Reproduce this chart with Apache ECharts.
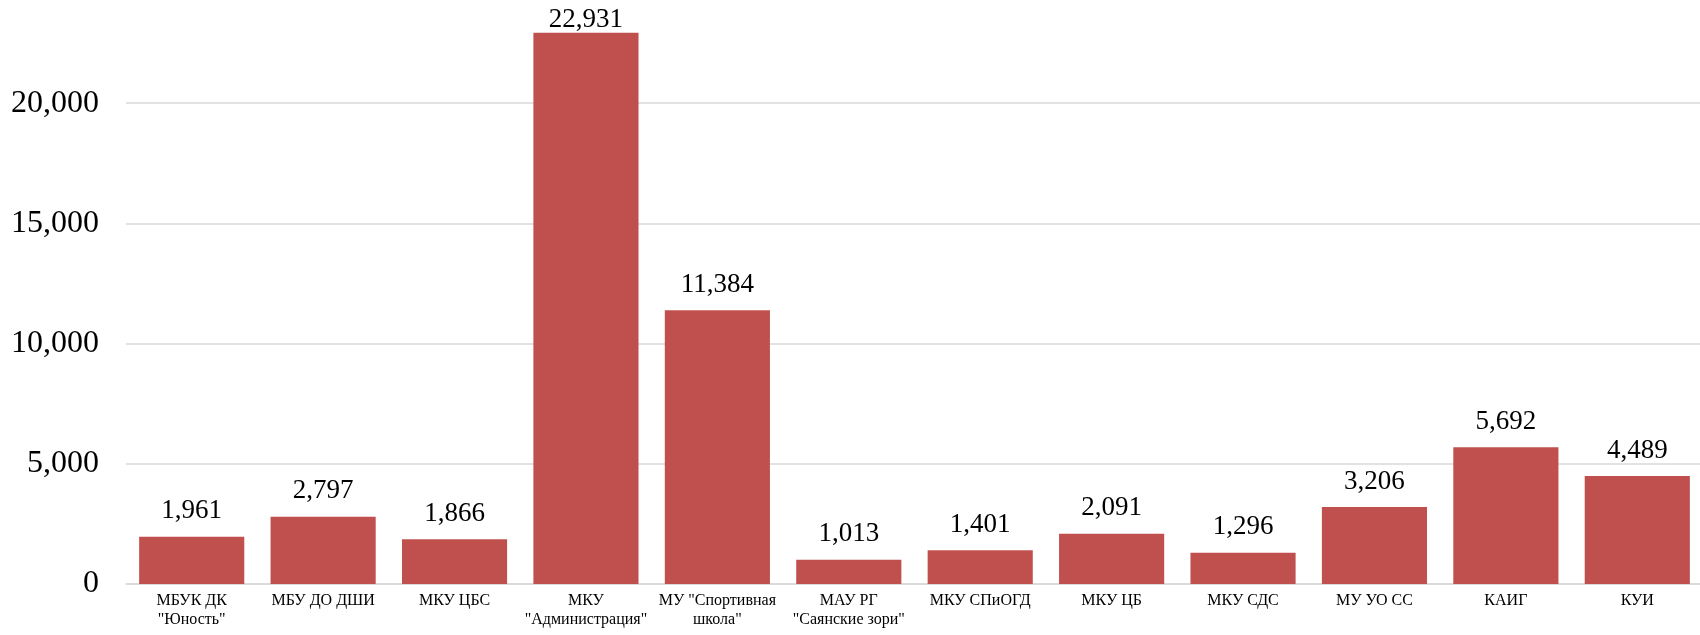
<!DOCTYPE html>
<html>
<head>
<meta charset="utf-8">
<script src="https://cdn.jsdelivr.net/npm/echarts@6/dist/echarts.min.js"></script>
<style>
html,body{margin:0;padding:0;background:#fff;}
#c{width:1700px;height:635px;}
</style>
</head>
<body>
<div id="c"></div>
<script>
const categories = [
  'МБУК ДК\n"Юность"',
  'МБУ ДО ДШИ',
  'МКУ ЦБС',
  'МКУ\n"Администрация"',
  'МУ "Спортивная\nшкола"',
  'МАУ РГ\n"Саянские зори"',
  'МКУ СПиОГД',
  'МКУ ЦБ',
  'МКУ СДС',
  'МУ УО СС',
  'КАИГ',
  'КУИ'
];
const values = [1961, 2797, 1866, 22931, 11384, 1013, 1401, 2091, 1296, 3206, 5692, 4489];
const yTicks = [0, 5000, 10000, 15000, 20000, 25000];

const fmt = v => v.toLocaleString('en-US');
const maxV = Math.max(...values);

const chart = echarts.init(document.getElementById('c'), null, {renderer: 'canvas'});
chart.setOption({
  animation: false,
  backgroundColor: '#ffffff',
  grid: {left: 126, right: -3, top: -17, bottom: 51, containLabel: false, outerBoundsMode: 'none'},
  xAxis: {
    type: 'category',
    data: categories,
    axisLine: {show: true, lineStyle: {color: '#d9d9d9', width: 1.5}},
    axisTick: {show: false},
    axisLabel: {
      interval: 0,
      margin: 7,
      fontFamily: '"Liberation Serif", "Times New Roman", serif',
      fontSize: 16,
      lineHeight: 19,
      color: '#000'
    }
  },
  yAxis: {
    type: 'value',
    min: yTicks[0],
    max: yTicks[yTicks.length - 1],
    interval: yTicks[1] - yTicks[0],
    axisLine: {show: false},
    axisTick: {show: false},
    splitLine: {lineStyle: {color: '#d9d9d9', width: 1.5}},
    axisLabel: {
      margin: 27,
      fontFamily: '"Liberation Serif", "Times New Roman", serif',
      fontSize: 32,
      color: '#000',
      formatter: v => fmt(v)
    }
  },
  series: [{
    type: 'bar',
    barCategoryGap: '20%',
    itemStyle: {color: '#C0504D'},
    data: values.map(v => v === maxV
      ? {value: v, label: {distance: -1}}
      : v),
    label: {
      show: true,
      position: 'top',
      distance: 12,
      fontFamily: '"Liberation Serif", "Times New Roman", serif',
      fontSize: 27,
      color: '#000',
      formatter: p => fmt(p.value)
    }
  }]
});
</script>
</body>
</html>
